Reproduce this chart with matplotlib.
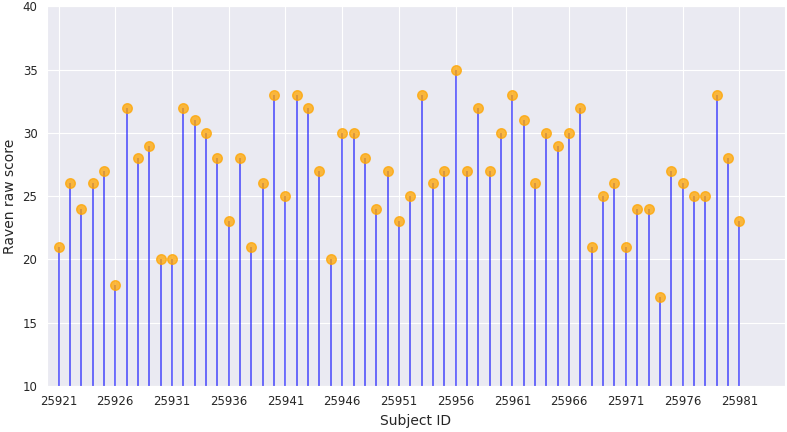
import numpy as np
import matplotlib
matplotlib.use("Agg")
import matplotlib.pyplot as plt
import seaborn as sns

sns.set_style("darkgrid")

subject_ids = list(range(25921, 25982))
raven_scores = [21, 26, 24, 26, 27, 18, 32, 28, 29, 20,
                20, 32, 31, 30, 28, 23, 28, 21, 26, 33,
                25, 33, 32, 27, 20, 30, 30, 28, 24, 27,
                23, 25, 33, 26, 27, 35, 27, 32, 27, 30,
                33, 31, 26, 30, 29, 30, 32, 21, 25, 26,
                21, 24, 24, 17, 27, 26, 25, 25, 33, 28,
                23]
tick_ids = list(range(25921, 25982, 5))

fig, ax = plt.subplots(figsize=(7.87, 4.32), dpi=100)
ax.vlines(x=subject_ids, ymin=10, ymax=raven_scores, color="blue", alpha=0.7, linewidth=1.1)
ax.scatter(subject_ids, raven_scores, color="orange", alpha=0.75, s=48, zorder=3)

ax.set_xticks(tick_ids)
ax.set_xlim(25920, 25985)
ax.set_ylim(10, 40)
ax.tick_params(labelsize=8.5)
ax.set_xlabel("Subject ID", fontsize=10)
ax.set_ylabel("Raven raw score", fontsize=10)

plt.subplots_adjust(left=0.06, right=0.997, top=0.985, bottom=0.107)
plt.savefig("out.png")
